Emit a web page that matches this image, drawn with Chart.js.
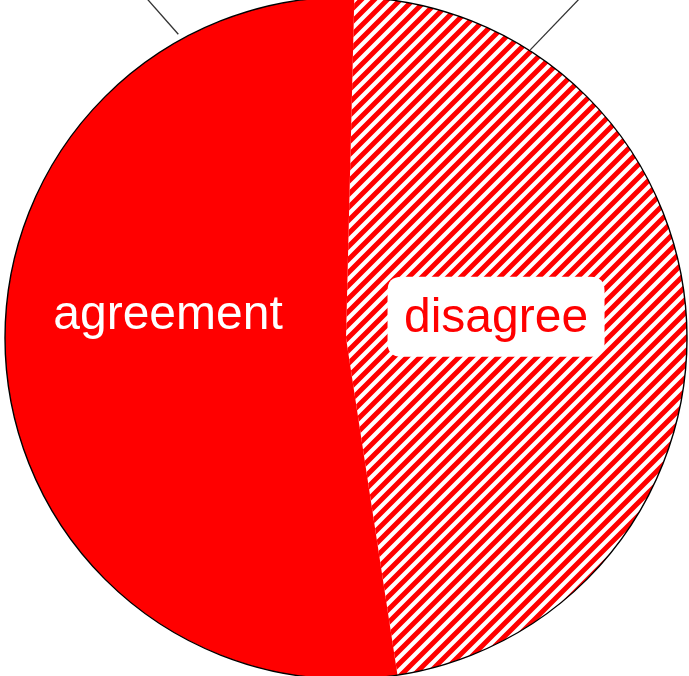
<!DOCTYPE html>
<html>
<head>
<meta charset="utf-8">
<script src="https://cdn.jsdelivr.net/npm/chart.js@4.4.1/dist/chart.umd.min.js"></script>
<style>
  html, body { margin: 0; padding: 0; background: #ffffff; overflow: hidden; width: 689px; height: 676px; }
  #grafico { display: block; position: absolute; left: 0; top: -3px; }
</style>
</head>
<body>
<canvas id="grafico" width="692" height="682"></canvas>
<script>
// dados do gráfico
const categorias = ["disagree", "agreement"];
const valores = [47.2, 52.8];
const inicioGraus = 1.4;

// listras diagonais vermelhas e brancas ("/")
function criarListras(){
  const s = 13;
  const c = document.createElement("canvas");
  c.width = s;
  c.height = s;
  const g = c.getContext("2d");
  g.fillStyle = "#ffffff";
  g.fillRect(0, 0, s, s);
  g.strokeStyle = "#ff0000";
  g.lineWidth = 5;
  g.beginPath();
  // retas x + y = 0, s, 2s
  g.moveTo(-s, s); g.lineTo(s, -s);
  g.moveTo(-s, s * 2); g.lineTo(s * 2, -s);
  g.moveTo(0, s * 2); g.lineTo(s * 2, 0);
  g.stroke();
  return g.createPattern(c, "repeat");
}

function caixaArredondada(ctx, x, y, w, h, r){
  ctx.beginPath();
  ctx.moveTo(x + r, y);
  ctx.lineTo(x + w - r, y);
  ctx.quadraticCurveTo(x + w, y, x + w, y + r);
  ctx.lineTo(x + w, y + h - r);
  ctx.quadraticCurveTo(x + w, y + h, x + w - r, y + h);
  ctx.lineTo(x + r, y + h);
  ctx.quadraticCurveTo(x, y + h, x, y + h - r);
  ctx.lineTo(x, y + r);
  ctx.quadraticCurveTo(x, y, x + r, y);
  ctx.closePath();
}

// contorno externo, linhas de chamada e rótulos
const extras = {
  id: "extras",
  afterDatasetsDraw(chart){
    const ctx = chart.ctx;
    const meta = chart.getDatasetMeta(0);
    const arco = meta.data[0];
    const cx = arco.x, cy = arco.y, r = arco.outerRadius;

    ctx.save();
    // contorno só no arco externo
    ctx.strokeStyle = "#000000";
    ctx.lineWidth = 1.4;
    ctx.beginPath();
    ctx.arc(cx, cy, r, 0, Math.PI * 2);
    ctx.stroke();

    // linhas de chamada no topo
    ctx.strokeStyle = "#333333";
    ctx.lineWidth = 1.3;
    const chamadas = [
      { ang: 331.1, dist: 6, dx: -30, dy: -34 },
      { ang: 32.6, dist: 1, dx: 48, dy: -50 }
    ];
    chamadas.forEach(l => {
      const a = (l.ang - 90) * Math.PI / 180;
      const x0 = cx + (r + l.dist) * Math.cos(a);
      const y0 = cy + (r + l.dist) * Math.sin(a);
      ctx.beginPath();
      ctx.moveTo(x0, y0);
      ctx.lineTo(x0 + l.dx * 1.5, y0 + l.dy * 1.5);
      ctx.stroke();
    });

    ctx.font = "48px 'Liberation Sans', Arial, sans-serif";
    ctx.textAlign = "center";
    ctx.textBaseline = "middle";

    // rótulo "disagree" com caixa branca
    const dx = cx + r * 0.44, dy = cy - r * 0.062;
    ctx.fillStyle = "#ffffff";
    caixaArredondada(ctx, dx - 108.5, dy - 40, 217, 80, 14);
    ctx.fill();
    ctx.fillStyle = "#ff0000";
    ctx.fillText(chart.data.labels[0], dx, dy + 2);

    // rótulo "agreement"
    const ax = cx - r * 0.522, ay = cy - r * 0.065;
    ctx.fillStyle = "#ffffff";
    ctx.fillText(chart.data.labels[1], ax, ay);
    ctx.restore();
  }
};

const chart = new Chart(document.getElementById("grafico"), {
  type: "pie",
  data: {
    labels: categorias,
    datasets: [{
      data: valores,
      backgroundColor: [criarListras(), "#ff0000"],
      borderWidth: 0
    }]
  },
  options: {
    responsive: false,
    animation: false,
    rotation: inicioGraus,
    layout: { padding: 0 },
    plugins: {
      legend: { display: false },
      tooltip: { enabled: false }
    }
  },
  plugins: [extras]
});
</script>
</body>
</html>
